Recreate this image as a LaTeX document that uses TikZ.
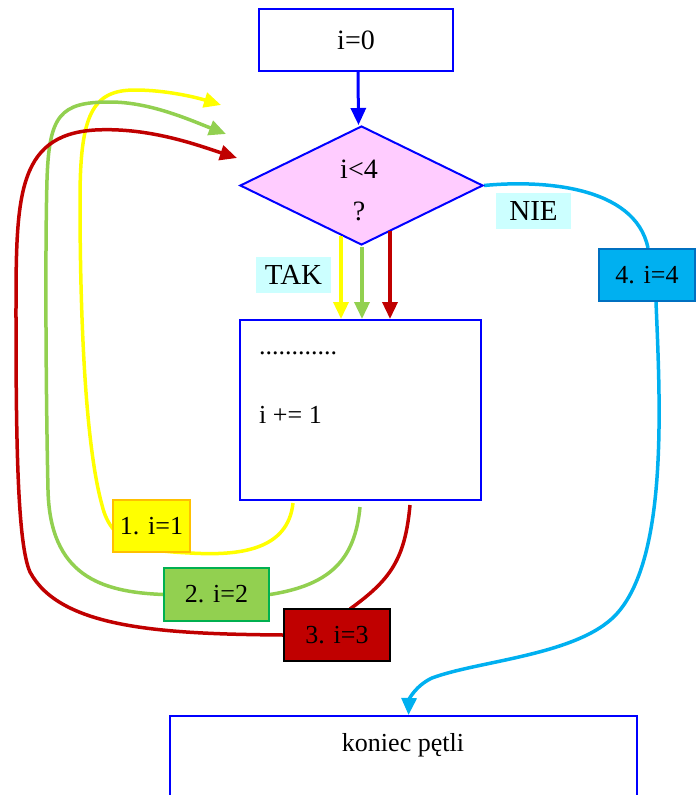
\documentclass[tikz,border=0pt]{standalone}
\usepackage{fontspec}
\setmainfont{Liberation Serif}
\usetikzlibrary{shapes.geometric,arrows.meta,backgrounds,calc}
\definecolor{cyel}{HTML}{FFFF00}
\definecolor{corange}{HTML}{FFC000}
\definecolor{cgreen}{HTML}{92D050}
\definecolor{cdgreen}{HTML}{00B050}
\definecolor{cred}{HTML}{C00000}
\definecolor{ccyan}{HTML}{00B0F0}
\definecolor{cdcyan}{HTML}{0070C0}
\definecolor{clab}{HTML}{CCFFFF}
\definecolor{cpink}{HTML}{FFCCFF}
\definecolor{cblue}{HTML}{0000FF}
\begin{document}
\begin{tikzpicture}[x=1pt,y=-1pt,
  txt/.style={font=\fontsize{26}{30}\selectfont},
  bluebox/.style={draw=cblue,line width=2pt,fill=white,inner sep=0pt,txt},
  tagbox/.style={line width=2pt,inner sep=0pt,txt,minimum height=52pt},
  lab/.style={fill=clab,inner sep=0pt,minimum width=75pt,minimum height=36pt,font=\fontsize{29}{32}\selectfont},
  tip/.style={-{Triangle[length=17pt,width=15pt]}},
  link/.style={line width=3.5pt}
]
\clip (0,0) rectangle (696,795);

% nodes
\node[bluebox,minimum width=194pt,minimum height=62pt,font=\fontsize{28}{32}\selectfont] (start) at (356,40) {i=0};
\node[diamond,draw=cblue,fill=cpink,line width=2pt,minimum width=243pt,minimum height=119pt,inner sep=0pt,align=center,font=\fontsize{28}{42}\selectfont] (cond) at (361.5,185.5) {};
\node[inner sep=0pt,align=center,font=\fontsize{28}{42}\selectfont] (condtxt) at (359,190) {i<4\\?};
\node[lab] (tak) at (293.5,275) {TAK};
\node[lab] (nie) at (533.5,211) {NIE};
\node[bluebox,minimum width=241pt,minimum height=180pt] (body) at (360.5,410) {};
\node[txt,anchor=west,inner sep=0pt] (dots) at (259,353) {............};
\node[txt,anchor=west,inner sep=0pt] (inc) at (259,415) {i += 1};
\node[bluebox,minimum width=467pt,minimum height=100pt] (end) at (403.5,766) {};
\node[txt,inner sep=0pt] (endtxt) at (403,745) {koniec pętli};

\node[tagbox,fill=cyel,draw=corange,minimum width=77pt] (t1) at (151.5,526) {1. i=1};
\node[tagbox,fill=cgreen,draw=cdgreen,minimum width=105pt,minimum height=53pt] (t2) at (216.5,594.5) {2. i=2};
\node[tagbox,fill=cred,draw=black,minimum width=106pt] (t3) at (337,635) {3. i=3};
\node[tagbox,fill=ccyan,draw=cdcyan,minimum width=96pt] (t4) at (647,275) {4. i=4};

% coordinates
\coordinate (ys) at (293,503);
\coordinate (ye) at (221,105);
\coordinate (gs) at (360,507);
\coordinate (ge) at (226,134);
\coordinate (rs) at (410,505);
\coordinate (re) at (237,158);

\begin{pgfonlayer}{background}
% yellow loop
\draw[link,cyel,tip] (ys) .. controls (288,550) and (240,556) .. (190,553)
  .. controls (150,551) and (112,548) .. (102,505)
  .. controls (84,440) and (80,300) .. (80,200)
  .. controls (80,115) and (92,90) .. (135,90)
  .. controls (165,90) and (195,97) .. (ye);
% green loop
\draw[link,cgreen] (gs) .. controls (355,560) and (330,585) .. (t2.east);
\draw[link,cgreen,tip] (t2.west) .. controls (100,592) and (50,575) .. (48,490)
  .. controls (46,400) and (45,250) .. (47,180)
  .. controls (49,115) and (60,102) .. (110,102)
  .. controls (150,102) and (190,120) .. (ge);
% red loop
\draw[link,cred] (rs) .. controls (405,560) and (390,580) .. (350,609);
\draw[link,cred,tip] (t3.west) .. controls (160,634) and (60,628) .. (30,572)
  .. controls (18,545) and (16,450) .. (16,320)
  .. controls (16,200) and (15,135) .. (95,130)
  .. controls (150,127) and (200,146) .. (re);
% cyan
\draw[link,ccyan] (cond.east) .. controls (540,180) and (635,185) .. ($(t4.north)+(1,0)$);
\draw[link,ccyan,tip] ($(t4.south)+(9,0)$) .. controls (660,400) and (668,550) .. (620,610)
  .. controls (585,655) and (480,660) .. (432,678)
  .. controls (415,686) and (409,700) .. ($(end.north)+(5,0)$);
\end{pgfonlayer}

% downward arrows
\draw[line width=3pt,cblue,tip] ($(start.south)+(2,0)$) -- ($(cond.north)+(-3,0)$);
\draw[link,cyel,tip] (341,236) -- ($(body.north)+(-19.5,0)$);
\draw[link,cgreen,tip] ($(cond.south)+(0.5,1)$) -- ($(body.north)+(1.5,0)$);
\draw[link,cred,tip] (390,231) -- ($(body.north)+(29.5,0)$);
\end{tikzpicture}
\end{document}
